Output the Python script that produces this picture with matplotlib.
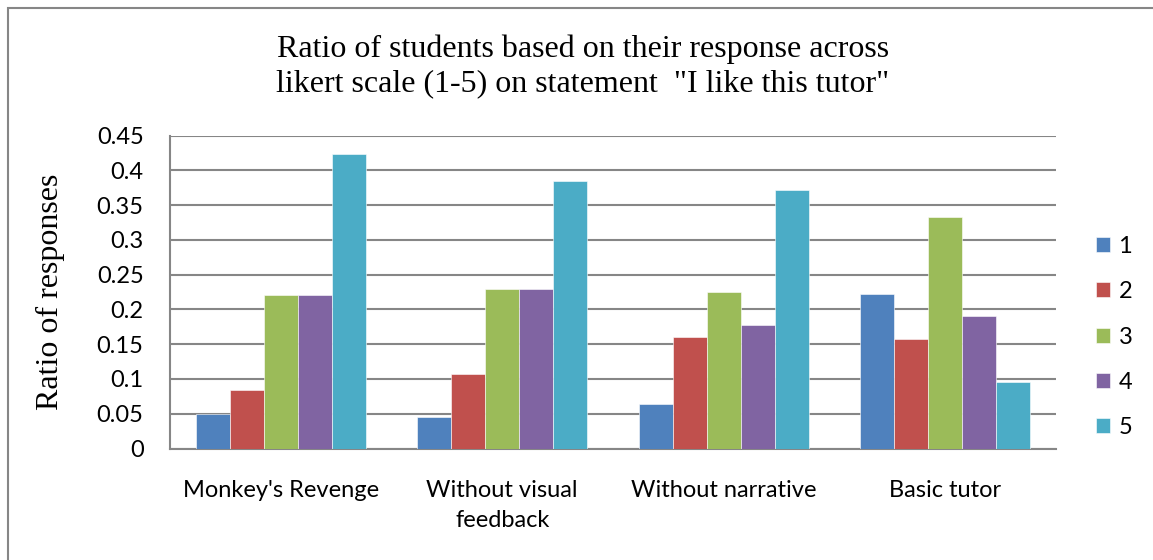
import matplotlib
matplotlib.use("Agg")
import matplotlib.pyplot as plt
import numpy as np
from matplotlib.patches import Rectangle

categories = ["Monkey's Revenge", "Without visual\nfeedback", "Without narrative", "Basic tutor"]
series_names = ["1", "2", "3", "4", "5"]
r1 = [0.050, 0.046, 0.064, 0.222]
r2 = [0.084, 0.107, 0.161, 0.158]
r3 = [0.220, 0.230, 0.225, 0.333]
r4 = [0.220, 0.230, 0.177, 0.190]
r5 = [0.423, 0.384, 0.371, 0.095]
series = [r1, r2, r3, r4, r5]
colors = ["#4F81BD", "#C0504D", "#9BBB59", "#8064A2", "#4BACC6"]
yticks = [0, 0.05, 0.1, 0.15, 0.2, 0.25, 0.3, 0.35, 0.4, 0.45]
ytick_labels = ["0", "0.05", "0.1", "0.15", "0.2", "0.25", "0.3", "0.35", "0.4", "0.45"]

W, H = 1153, 560
fig = plt.figure(figsize=(W / 100, H / 100), dpi=100)
sans = ["Lato", "DejaVu Sans"]
serif = ["Liberation Serif", "DejaVu Serif"]

# outer chart frame
fig.patches.append(Rectangle((8 / W, -0.1), 1.2, (1 - 8 / H) + 0.1, transform=fig.transFigure,
                             fill=False, edgecolor="#868686", linewidth=1.5))

ax = fig.add_axes([170 / W, 1 - 448.5 / H, (1056 - 170) / W, (448.5 - 135.5) / H])
n = len(series)
bw = 0.1535
x = np.arange(len(categories))
for i, (vals, c, name) in enumerate(zip(series, colors, series_names)):
    ax.bar(x + (i - (n - 1) / 2) * bw, vals, width=bw, color=c, label=name,
           edgecolor="white", linewidth=0.4, zorder=3)

ax.set_xlim(-0.5, len(categories) - 0.5)
ax.set_ylim(0, 0.45)
ax.set_yticks(yticks)
ax.set_yticklabels(ytick_labels, fontfamily=sans, fontsize=17)
ax.set_xticks(x)
ax.set_xticklabels(categories, fontfamily=sans, fontsize=17, linespacing=1.5)
ax.tick_params(axis="y", length=0, pad=19)
ax.tick_params(axis="x", length=0, pad=23)
ax.grid(axis="y", color="#868686", linewidth=1.5, zorder=0)
for s in ["top", "right"]:
    ax.spines[s].set_visible(False)
ax.spines["left"].set_color("#868686")
ax.spines["bottom"].set_color("#868686")
ax.spines["left"].set_linewidth(1.5)
ax.spines["bottom"].set_linewidth(1.5)

ax.set_ylabel("Ratio of responses", fontfamily=serif, fontsize=23)
ax.yaxis.set_label_coords(-(170 - 50) / (1056 - 170), 0.5)
ax.yaxis.label.set_va("center")

fig.text(583 / W, 1 - 35 / H, "Ratio of students based on their response across\nlikert scale (1-5) on statement  \"I like this tutor\"",
         ha="center", va="top", fontfamily=serif, fontsize=23, linespacing=1.2)

leg = ax.legend(loc="center left", bbox_to_anchor=(1096 / W, 1 - 337 / H), bbox_transform=fig.transFigure,
                frameon=False, prop={"family": sans, "size": 17}, handlelength=0.6, handleheight=0.6,
                handletextpad=0.35, labelspacing=1.03, borderaxespad=0, borderpad=0)

fig.savefig("out.png", dpi=100)
